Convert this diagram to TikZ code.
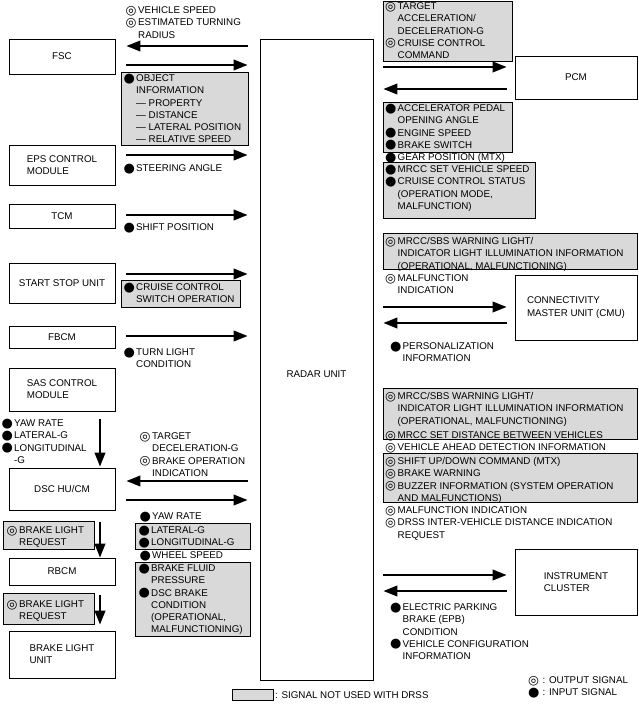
\documentclass[tikz,border=0pt]{standalone}
\usepackage{fontspec}
\setmainfont{Liberation Sans}
\newfontfamily\symfont{DejaVu Sans}
\usepackage{tikz}
\usetikzlibrary{arrows.meta}
\definecolor{unusedgray}{gray}{0.85}
\newcommand{\sigfont}{\fontsize{9.8}{12.2}\selectfont}
\newcommand{\sgo}{\makebox[12.5pt][l]{\symfont\bfseries\fontsize{12.5}{12}\selectfont\raisebox{-0.4pt}{◎}}}
\newcommand{\sgi}{\makebox[12.5pt][l]{\symfont\fontsize{13}{12}\selectfont\raisebox{-0.6pt}{●}}}
\newcommand{\sgx}{\hspace*{12.5pt}}

\begin{document}
\begin{tikzpicture}[x=1pt,y=-1pt,
  unit/.style={draw,line width=0.8pt,minimum width=106pt,align=left,font=\sigfont},
  unused/.style={draw,line width=0.6pt,fill=unusedgray,anchor=north west,inner sep=0pt},
  sig/.style={anchor=north west,inner sep=0pt,align=left,font=\sigfont},
  flow/.style={line width=2.3pt,-{Triangle[length=14pt,width=10.5pt]}},
  lin/.style={flow,shorten <=11pt,shorten >=12pt},
  lback/.style={flow,shorten <=12pt,shorten >=11pt},
  rin/.style={flow,shorten <=10pt,shorten >=8pt},
  rback/.style={flow,shorten <=8pt,shorten >=10pt}]
\useasboundingbox (0,0) rectangle (639,704);

% units
\node[unit,minimum width=113pt,minimum height=641pt,
  label={[font=\sigfont,yshift=-15pt]center:RADAR UNIT}] (radar) at (316.5,359.5) {};
\node[unit,minimum height=35pt] (fsc) at (62,56.5) {FSC};
\node[unit,minimum height=40pt] (eps) at (62,165) {EPS CONTROL\\MODULE};
\node[unit,minimum height=24pt] (tcm) at (62,216) {TCM};
\node[unit,minimum height=40pt] (ssu) at (62,283) {START STOP UNIT};
\node[unit,minimum height=22pt] (fbcm) at (62,337) {FBCM};
\node[unit,minimum height=43pt] (sas) at (62,389.5) {SAS CONTROL\\MODULE};
\node[unit,minimum height=42pt] (dsc) at (62,489) {DSC HU/CM};
\node[unit,minimum height=27pt] (rbcm) at (62,571.5) {RBCM};
\node[unit,minimum height=47pt] (blu) at (62,654.5) {BRAKE LIGHT\\UNIT};
\node[unit,minimum width=122pt,minimum height=43pt] (pcm) at (576,77.5) {PCM};
\node[unit,minimum width=122pt,minimum height=65pt] (cmu) at (576,307.5) {CONNECTIVITY\\MASTER UNIT (CMU)};
\node[unit,minimum width=122pt,minimum height=66pt] (ic) at (576,582) {INSTRUMENT\\CLUSTER};

% signals not used with DRSS
\node[unused,minimum width=127pt,minimum height=73pt] (g1) at (121,72) {};
\node[unused,minimum width=119pt,minimum height=27pt] (g2) at (121,280) {};
\node[unused,minimum width=115pt,minimum height=26pt] (g3) at (135,523) {};
\node[unused,minimum width=91pt,minimum height=28pt] (g4) at (3,521) {};
\node[unused,minimum width=115pt,minimum height=74pt] (g5) at (135,562) {};
\node[unused,minimum width=91pt,minimum height=31pt] (g6) at (3,593) {};
\node[unused,minimum width=129pt,minimum height=60pt] (g7) at (383,1) {};
\node[unused,minimum width=129pt,minimum height=50pt] (g8) at (383,102) {};
\node[unused,minimum width=152pt,minimum height=56pt] (g9) at (383,162) {};
\node[unused,minimum width=254pt,minimum height=36pt] (g10) at (383,233) {};
\node[unused,minimum width=254pt,minimum height=51pt] (g11) at (383,388) {};
\node[unused,minimum width=254pt,minimum height=49pt] (g12) at (383,453) {};
\node[unused,minimum width=41pt,minimum height=11pt] (g13) at (232,689) {};

% left signals
\node[sig] (fscout) at (125.5,5) {\strut\sgo VEHICLE SPEED\\\sgo ESTIMATED TURNING\\\sgx RADIUS};
\node[sig] (fscin) at (123.5,73) {\strut\sgi OBJECT\\\sgx INFORMATION\\\sgx — PROPERTY\\\sgx — DISTANCE\\\sgx — LATERAL POSITION\\\sgx — RELATIVE SPEED};
\node[sig] (epsin) at (123.5,163) {\strut\sgi STEERING ANGLE};
\node[sig] (tcmin) at (123.5,222) {\strut\sgi SHIFT POSITION};
\node[sig] (ssuin) at (123.5,282) {\strut\sgi CRUISE CONTROL\\\sgx SWITCH OPERATION};
\node[sig] (fbcmin) at (123.5,347) {\strut\sgi TURN LIGHT\\\sgx CONDITION};
\node[sig] (sasout) at (1.5,418) {\strut\sgi YAW RATE\\\sgi LATERAL-G\\\sgi LONGITUDINAL\\\sgx -G};
\node[sig] (dscout) at (139.5,431) {\strut\sgo TARGET\\\sgx DECELERATION-G\\\sgo BRAKE OPERATION\\\sgx INDICATION};
\node[sig] (dscin1) at (139.5,511) {\strut\sgi YAW RATE};
\node[sig] (dscin2) at (138.5,525) {\strut\sgi LATERAL-G\\\sgi LONGITUDINAL-G};
\node[sig] (dscin3) at (139.5,550) {\strut\sgi WHEEL SPEED};
\node[sig] (dscin4) at (138.5,563) {\strut\sgi BRAKE FLUID\\\sgx PRESSURE\\\sgi DSC BRAKE\\\sgx CONDITION\\\sgx (OPERATIONAL,\\\sgx MALFUNCTIONING)};
\node[sig] (rbcmreq) at (6.5,525) {\strut\sgo BRAKE LIGHT\\\sgx REQUEST};
\node[sig] (blureq) at (6.5,599) {\strut\sgo BRAKE LIGHT\\\sgx REQUEST};

% right signals
\node[sig] (pcmout) at (385,1) {\strut\sgo TARGET\\\sgx ACCELERATION/\\\sgx DECELERATION-G\\\sgo CRUISE CONTROL\\\sgx COMMAND};
\node[sig] (pcmin1) at (385,103) {\strut\sgi ACCELERATOR PEDAL\\\sgx OPENING ANGLE\\\sgi ENGINE SPEED\\\sgi BRAKE SWITCH};
\node[sig] (pcmin2) at (385,152) {\strut\sgi GEAR POSITION (MTX)};
\node[sig] (pcmin3) at (385,164) {\strut\sgi MRCC SET VEHICLE SPEED\\\sgi CRUISE CONTROL STATUS\\\sgx (OPERATION MODE,\\\sgx MALFUNCTION)};
\node[sig] (cmuout1) at (385,236) {\strut\sgo MRCC/SBS WARNING LIGHT/\\\sgx INDICATOR LIGHT ILLUMINATION INFORMATION\\\sgx (OPERATIONAL, MALFUNCTIONING)};
\node[sig] (cmuout2) at (385,273) {\strut\sgo MALFUNCTION\\\sgx INDICATION};
\node[sig] (cmuin) at (390,341) {\strut\sgi PERSONALIZATION\\\sgx INFORMATION};
\node[sig] (icout1) at (385,391) {\strut\sgo MRCC/SBS WARNING LIGHT/\\\sgx INDICATOR LIGHT ILLUMINATION INFORMATION\\\sgx (OPERATIONAL, MALFUNCTIONING)};
\node[sig] (icout2) at (385,430) {\strut\sgo MRCC SET DISTANCE BETWEEN VEHICLES};
\node[sig] (icout3) at (385,442) {\strut\sgo VEHICLE AHEAD DETECTION INFORMATION};
\node[sig] (icout4) at (385,456) {\strut\sgo SHIFT UP/DOWN COMMAND (MTX)\\\sgo BRAKE WARNING\\\sgo BUZZER INFORMATION (SYSTEM OPERATION\\\sgx AND MALFUNCTIONS)};
\node[sig] (icout5) at (385,505) {\strut\sgo MALFUNCTION INDICATION\\\sgo DRSS INTER-VEHICLE DISTANCE INDICATION\\\sgx REQUEST};
\node[sig] (icin) at (390,602) {\strut\sgi ELECTRIC PARKING\\\sgx BRAKE (EPB)\\\sgx CONDITION\\\sgi VEHICLE CONFIGURATION\\\sgx INFORMATION};

% legend
\node[sig,anchor=west] (unusedkey) at (275,695) {: SIGNAL NOT USED WITH DRSS};
\node[sig,font=\fontsize{9.8}{9.6}\selectfont] (symkey) at (528,676) {\strut\sgo\hspace{2pt}: OUTPUT SIGNAL\\\sgi\hspace{2pt}: INPUT SIGNAL};

% connectors
\draw[lback] (radar.west |- 0,46) -- (fsc.east |- 0,46);
\draw[lin] (fsc.east |- 0,65) -- (radar.west |- 0,65);
\draw[lin] (eps.east |- 0,155) -- (radar.west |- 0,155);
\draw[lin] (tcm.east |- 0,215) -- (radar.west |- 0,215);
\draw[lin] (ssu.east |- 0,274) -- (radar.west |- 0,274);
\draw[lin] (fbcm.east |- 0,336) -- (radar.west |- 0,336);
\draw[lback] (radar.west |- 0,481) -- (dsc.east |- 0,481);
\draw[lin] (dsc.east |- 0,500) -- (radar.west |- 0,500);
\draw[rin] (radar.east |- 0,67) -- (pcm.west |- 0,67);
\draw[rback] (pcm.west |- 0,89) -- (radar.east |- 0,89);
\draw[rin] (radar.east |- 0,307) -- (cmu.west |- 0,307);
\draw[rback] (cmu.west |- 0,323) -- (radar.east |- 0,323);
\draw[rin] (radar.east |- 0,575) -- (ic.west |- 0,575);
\draw[rback] (ic.west |- 0,591) -- (radar.east |- 0,591);
\draw[flow,shorten <=8pt,shorten >=1pt] (sas.south -| 100,0) -- (dsc.north -| 100,0);
\draw[flow,shorten <=12pt,shorten >=0pt] (dsc.south -| 100,0) -- (rbcm.north -| 100,0);
\draw[flow,shorten <=10pt,shorten >=6pt] (rbcm.south -| 100,0) -- (blu.north -| 100,0);
\end{tikzpicture}
\end{document}
